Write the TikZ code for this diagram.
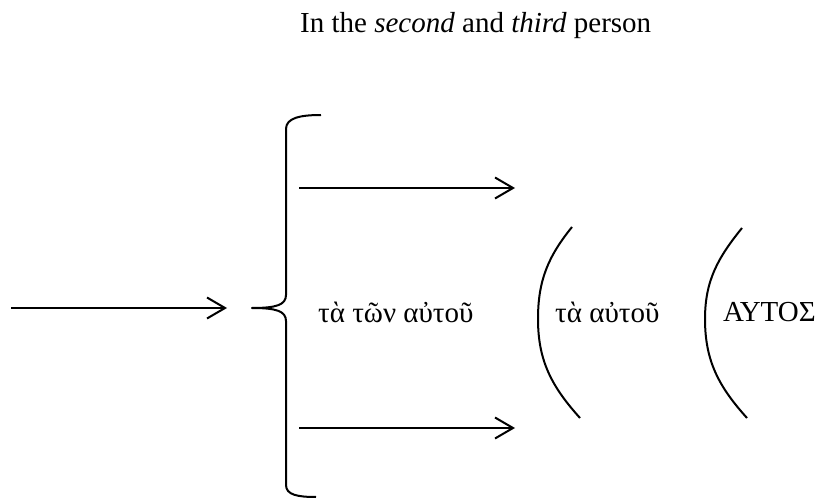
\documentclass[tikz,border=0pt]{standalone}
\usepackage{fontspec}
\setmainfont{Liberation Serif}
\usetikzlibrary{arrows.meta}
\tikzset{
  label text/.style={font=\fontsize{29}{34}\selectfont, inner sep=0pt, anchor=base west},
  flow/.style={line width=2pt, -{Straight Barb[length=18pt, width=21pt, line width=2pt]}},
  stroke/.style={line width=2pt},
}
\begin{document}
\begin{tikzpicture}[x=1pt, y=1pt]
  \useasboundingbox (0,0) rectangle (823,499);

  % heading
  \node[label text] (title) at (300,466) {In the \textit{second} and \textit{third} person};

  % entry arrow into the brace
  \coordinate (inStart) at (11,191);
  \coordinate (inEnd) at (227,191);
  \draw[flow] (inStart) -- (inEnd);

  % brace
  \coordinate (braceTop) at (321,384);
  \coordinate (braceTip) at (252,191);
  \coordinate (braceBot) at (316,2);
  \draw[stroke, line join=round] (braceTop) .. controls (300,384) and (286,381) .. (286,370)
    -- (286,204) .. controls (286,194) and (276,191) .. (braceTip)
    .. controls (276,191) and (286,188) .. (286,178)
    -- (286,14) .. controls (286,4) and (298,2) .. (braceBot);

  % branch arrows
  \coordinate (upStart) at (299,311);
  \coordinate (upEnd) at (515,311);
  \coordinate (lowStart) at (299,71);
  \coordinate (lowEnd) at (515,71);
  \draw[flow] (upStart) -- (upEnd);
  \draw[flow] (lowStart) -- (lowEnd);

  % texts
  \node[label text] (genitive) at (318,177) {τὰ τῶν αὐτοῦ};
  \node[label text] (neuter) at (555,177) {τὰ αὐτοῦ};
  \node[label text] (pronoun) at (723,178) {ΑΥΤΟΣ};

  % arcs
  \coordinate (arcAtop) at (572,272);
  \coordinate (arcAmid) at (538,180);
  \coordinate (arcAbot) at (580,81);
  \draw[stroke] (arcAtop) to[out=231, in=90] (arcAmid) to[out=270, in=132] (arcAbot);

  \coordinate (arcBtop) at (742,271);
  \coordinate (arcBmid) at (705,180);
  \coordinate (arcBbot) at (747,81);
  \draw[stroke] (arcBtop) to[out=231, in=90] (arcBmid) to[out=270, in=132] (arcBbot);
\end{tikzpicture}
\end{document}
